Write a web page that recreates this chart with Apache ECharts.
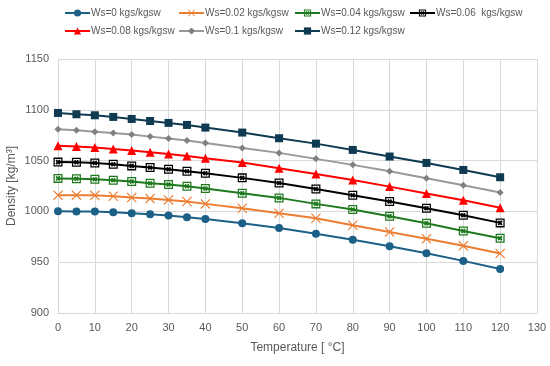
<!DOCTYPE html>
<html><head><meta charset="utf-8">
<script src="https://cdn.jsdelivr.net/npm/echarts@6/dist/echarts.min.js"></script>
<style>html,body{margin:0;padding:0;background:#fff}#c{width:550px;height:366px}</style>
</head><body><div id="c"></div>
<script>
const temps = [0,5,10,15,20,25,30,35,40,50,60,70,80,90,100,110,120];
const seriesNames = ['Ws=0 kgs/kgsw','Ws=0.02 kgs/kgsw','Ws=0.04 kgs/kgsw','Ws=0.06  kgs/kgsw','Ws=0.08 kgs/kgsw','Ws=0.1 kgs/kgsw','Ws=0.12 kgs/kgsw'];
const ws000 = [1000.1,1000.0,999.8,999.2,998.2,997.2,995.9,994.3,992.6,988.3,983.6,978.1,972.0,965.6,958.8,951.3,943.3];
const ws002 = [1016.0,1016.0,1015.8,1014.9,1013.6,1012.6,1011.3,1009.7,1007.4,1003.1,998.2,993.3,986.4,979.8,973.0,966.1,958.5];
const ws004 = [1032.5,1032.2,1031.7,1030.7,1029.4,1027.7,1026.4,1024.8,1022.5,1017.9,1013.3,1007.4,1001.8,995.3,988.4,980.8,973.6];
const ws006 = [1048.5,1048.3,1047.7,1046.4,1044.8,1043.1,1041.5,1039.5,1037.6,1033.0,1028.0,1022.1,1015.9,1009.7,1003.1,996.2,988.7];
const ws008 = [1064.6,1063.8,1062.8,1061.5,1059.9,1058.2,1056.6,1054.6,1052.3,1048.1,1042.5,1036.9,1031.0,1024.4,1017.6,1011.0,1003.6];
const ws010 = [1080.8,1079.9,1078.5,1077.2,1075.6,1073.6,1071.7,1069.7,1067.4,1062.5,1057.6,1051.7,1045.8,1039.5,1032.6,1025.7,1018.5];
const ws012 = [1096.9,1095.6,1094.6,1093.0,1091.0,1089.0,1087.1,1085.1,1082.5,1077.6,1072.0,1066.7,1060.5,1054.0,1047.7,1040.8,1033.6];
const yTicks = {min:900, max:1150, interval:50};
const xTicks = {min:0, max:130, interval:10};

const xPath = 'path://M0.8 0 L5 4.2 L9.2 0 L10 0.8 L5.8 5 L10 9.2 L9.2 10 L5 5.8 L0.8 10 L0 9.2 L4.2 5 L0 0.8 Z';
const boxX = 'path://M0 0 L10 0 L10 1.4 L0 1.4 Z M0 8.6 L10 8.6 L10 10 L0 10 Z M0 1.4 L1.4 1.4 L1.4 8.6 L0 8.6 Z M8.6 1.4 L10 1.4 L10 8.6 L8.6 8.6 Z M2.2 3.6 L3.6 2.2 L5 3.6 L6.4 2.2 L7.8 3.6 L6.4 5 L7.8 6.4 L6.4 7.8 L5 6.4 L3.6 7.8 L2.2 6.4 L3.6 5 Z';

const dataSets = [ws000, ws002, ws004, ws006, ws008, ws010, ws012];
const colors = ['#1C6087','#ED7D31','#1F7A1F','#000000','#FF0000','#999999','#0E3A52'];
const markerColors = ['#1C6087','#ED7D31','#1F7A1F','#000000','#FF0000','#808080','#0E3A52'];
const symbols = ['circle', xPath, boxX, boxX, 'triangle', 'diamond', 'rect'];
const sizes = [8, 10, 9, 9, 9, 7, 8];

const series = dataSets.map((d, i) => ({
  name: seriesNames[i],
  type: 'line',
  data: temps.map((t, j) => [t, d[j]]),
  symbol: symbols[i],
  symbolSize: sizes[i],
  showAllSymbol: true,
  lineStyle: {color: colors[i], width: 2},
  itemStyle: {color: markerColors[i], borderWidth: 0},
  emphasis: {disabled: true},
  z: 2 + i
}));

const font = 'Liberation Sans, Arial, sans-serif';
const legendPos = [[64,8],[178,8],[294,8],[409,8],[64,26],[178,26],[294,26]];
const legends = seriesNames.map((n, i) => ({
  left: legendPos[i][0], top: legendPos[i][1], padding: 0,
  itemWidth: 25, itemHeight: 9, itemGap: 0,
  textStyle: {fontSize: 10, color: '#595959', fontFamily: font, padding: [0,0,0,-4]},
  data: [n]
}));

const chart = echarts.init(document.getElementById('c'), null, {renderer:'canvas'});
chart.setOption({
  animation: false,
  color: colors,
  textStyle: {fontFamily: font},
  legend: legends,
  grid: {left: 58, right: 13, top: 59, bottom: 53, containLabel: false, outerBoundsMode: 'none'},
  xAxis: {
    type: 'value', min: xTicks.min, max: xTicks.max, interval: xTicks.interval,
    name: 'Temperature [ °C]', nameLocation: 'middle', nameGap: 29, nameMoveOverlap: false,
    nameTextStyle: {fontSize: 12, color: '#595959', fontFamily: font},
    axisLine: {lineStyle: {color: '#D9D9D9'}},
    axisTick: {show: false},
    axisLabel: {fontSize: 11, color: '#595959', margin: 9, fontFamily: font},
    splitLine: {show: true, lineStyle: {color: '#D9D9D9', width: 1}}
  },
  yAxis: {
    type: 'value', min: yTicks.min, max: yTicks.max, interval: yTicks.interval,
    name: 'Density [kg/m³]', nameLocation: 'middle', nameGap: 40, nameMoveOverlap: false,
    nameTextStyle: {fontSize: 12, color: '#595959', fontFamily: font},
    axisLine: {show: true, lineStyle: {color: '#D9D9D9'}},
    axisTick: {show: false},
    axisLabel: {fontSize: 11, color: '#595959', margin: 9, fontFamily: font, formatter: v => String(v)},
    splitLine: {show: true, lineStyle: {color: '#D9D9D9', width: 1}}
  },
  series: series
});
</script></body></html>
